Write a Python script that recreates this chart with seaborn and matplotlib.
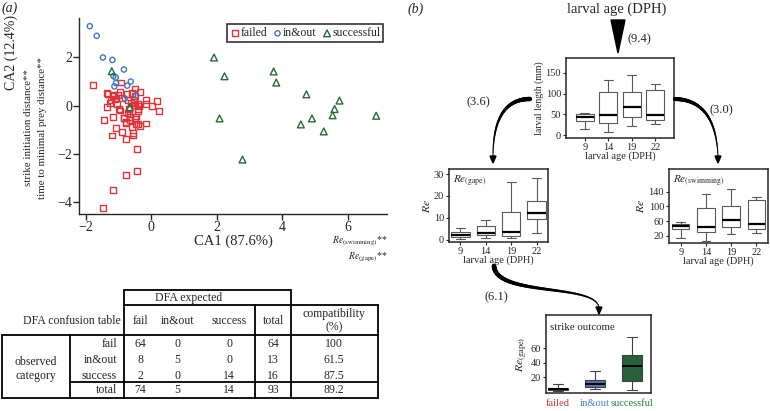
import numpy as np
import pandas as pd
import matplotlib
matplotlib.use("Agg")
import matplotlib.pyplot as plt
from matplotlib.collections import LineCollection
from matplotlib.patches import Polygon
import seaborn as sns

# (a) canonical scores
failed_x = [-1.76, -1.34, -1.33, -1.35, -1.43, -1.22, -1.15, -1.13, -1.10, -1.00,
            -1.15, -1.08, -1.19, -0.89, -0.76, -0.99, -0.96, -0.95, -0.93, -0.84,
            -0.76, -0.74, -0.70, -0.67, -0.65, -0.65, -0.59, -0.54, -0.54, -0.57,
            -0.53, -0.49, -0.48, -0.43, -0.44, -0.76, -1.15, -1.48, -0.50, -0.38,
            -0.40, -0.46, -0.34, -0.41, -0.33, -0.16, -0.16, -0.16, 0.04, 0.19,
            0.25, -1.26, -0.83, -0.66, -0.49, -0.39, -0.53, -0.41, -0.77, -0.88,
            -0.62, -0.45, -1.05, -0.72]
failed_y = [0.85, 0.53, 0.50, -0.07, -0.61, 0.23, 0.39, 0.45, 0.26, 0.43,
            -0.47, -0.93, -1.24, -1.10, -1.40, -0.13, -0.20, 0.57, 0.96, -0.50,
            -0.71, 0.50, 0.25, -0.15, -0.47, -0.60, -0.89, -1.13, -1.24, 0.54,
            0.22, 0.39, 0.71, -1.79, -2.70, -2.88, -3.49, -4.24, 0.04, 0.00,
            -0.14, -0.75, -0.85, -0.77, 0.58, 0.23, 0.07, -0.74, 0.00, 0.19,
            -0.21, 0.12, -0.51, -0.33, -0.57, 0.05, 0.15, -0.24, -0.68, 0.30,
            0.10, -0.45, 0.05, -0.30]
inout_x = [-1.87, -1.66, -1.47, -1.18, -0.83, -0.62, -0.73, -1.15, -1.08, -1.07,
           -1.12, -0.80, -0.46]
inout_y = [3.30, 2.90, 2.00, 1.90, 1.50, 1.00, 0.83, 1.23, 1.17, 0.94,
           0.80, 0.29, 0.43]
success_x = [-1.20, -0.65, 1.92, 2.24, 2.09, 2.79, 3.74, 3.82, 4.74, 4.57,
             4.91, 5.27, 5.54, 5.60, 5.75, 6.87]
success_y = [1.43, -0.07, 2.00, 1.22, -0.53, -2.24, 1.42, 0.96, 0.47, -0.78,
             -0.53, -1.07, -0.40, -0.14, 0.21, -0.42]

# DFA confusion table
pred_cols = ["fail", "in&out", "success"]
obs_rows = ["fail", "in&out", "success"]
confusion = [[64, 0, 0], [8, 5, 0], [2, 0, 14]]
row_totals = [64, 13, 16]
col_totals = [74, 5, 14]
grand_total = 93
compat = ["100", "61.5", "87.5"]
compat_total = "89.2"

# (b) box summaries: min, q1, median, q3, max
ages = ["9", "14", "19", "22"]
length_stats = [[14, 35, 44, 51, 54], [6.5, 30, 48.5, 103, 133],
                [22.5, 43, 67, 104, 146], [26, 36, 49, 109, 124]]
gape_stats = [[0.3, 1.2, 2.3, 3.5, 5.5], [0.9, 2.1, 3.0, 6.1, 8.9],
              [0.7, 1.8, 3.5, 12.7, 26.4], [3.2, 9.5, 12.1, 17.8, 28]]
swim_stats = [[13.8, 37, 46, 52, 56], [5.4, 29.8, 45, 95, 133],
              [24.6, 42.5, 62.5, 99.7, 147], [26.3, 37, 51.7, 117, 124]]
outcomes = ["failed", "in&out", "successful"]
outcome_stats = [[0.5, 1.5, 3, 5.5, 10.5], [4, 6.5, 11, 16.4, 28],
                 [2.5, 14.9, 34.7, 50.5, 75]]
outcome_box = ["#7a1e22", "#3d76bd", "#1d6a36"]
outcome_txt = ["#d3343a", "#4a80c4", "#2c7a40"]

sns.set_style("ticks")
plt.rcParams["font.family"] = ["Liberation Serif", "DejaVu Serif"]
plt.rcParams["mathtext.fontset"] = "stix"
plt.rcParams["axes.linewidth"] = 1.0

W, H = 770, 411
fig = plt.figure(figsize=(7.7, 4.11), dpi=100)


def rect(l, r, t, b):
    return [l / W, 1 - b / H, (r - l) / W, (b - t) / H]


def long_df(labels, stats, name):
    rows = []
    for lab, s in zip(labels, stats):
        for v in s:
            rows.append({name: lab, "val": v})
    return pd.DataFrame(rows)


# ---- scatter ----
ax = fig.add_axes(rect(79, 387, 18, 214))
groups = [("failed", failed_x, failed_y, "s", "#e0333a", 18),
          ("in&out", inout_x, inout_y, "o", "#3f78c2", 14),
          ("successful", success_x, success_y, "^", "#256b38", 24)]
for name, gx, gy, mk, col, sz in groups:
    sns.scatterplot(x=gx, y=gy, marker=mk, s=sz, color=col, facecolor="none",
                    edgecolor=col, linewidth=1.0, label=name, ax=ax, legend=False)
ax.set_xlim(-2.2, 7.2)
ax.set_ylim(-4.5, 3.64)
ax.set_xticks([-2, 0, 2, 4, 6])
ax.set_yticks([-4, -2, 0, 2])
ax.set_xticklabels(["\u22122", "0", "2", "4", "6"])
ax.set_yticklabels(["\u22124", "\u22122", "0", "2"])
ax.tick_params(labelsize=10, length=4, width=1, pad=1)
sns.despine(ax=ax)
leg = ax.legend(loc="upper right", ncol=3, fontsize=8.5, frameon=True, fancybox=False,
                handletextpad=0.05, columnspacing=0.5, borderpad=0.25,
                handlelength=0.8, borderaxespad=0.3, bbox_to_anchor=(1.0, 0.985))
leg.get_frame().set_edgecolor("black")
leg.get_frame().set_linewidth(1.2)


# ---- box panels ----
def box_panel(r, labels, stats, xlim, ylim, yticks, width, ylabel, ylsize=7):
    a = fig.add_axes(r)
    d = long_df(labels, stats, "grp")
    sns.boxplot(data=d, x="grp", y="val", whis=(0, 100), width=width, color="white",
                linecolor="0.35", linewidth=0.8,
                medianprops=dict(color="black", linewidth=1.6), ax=a)
    a.set_xlim(*xlim)
    a.set_ylim(*ylim)
    a.set_yticks(yticks)
    a.tick_params(labelsize=7.5, length=2.5, width=0.8, pad=1)
    a.set_xlabel("larval age (DPH)", fontsize=7.5, labelpad=0)
    a.set_ylabel(ylabel, fontsize=ylsize, labelpad=1)
    for sp in a.spines.values():
        sp.set_linewidth(1.1)
    return a


box_panel(rect(566, 674, 58, 138), ages, length_stats, (-0.8, 3.8), (-7, 186),
          [0, 50, 100, 150], 0.78, "larval length (mm)")
ag = box_panel(rect(449, 548, 169, 242), ages, gape_stats, (-0.45, 3.45), (-1.1, 32.3),
               [0, 10, 20, 30], 0.72, r"$\mathit{Re}$", 8.5)
ag.text(0.04, 0.93, r"$\mathit{Re}_{\mathrm{(gape)}}$", transform=ag.transAxes,
        fontsize=8, va="top")
asw = box_panel(rect(669, 768, 169, 243), ages, swim_stats, (-0.47, 3.47), (0.2, 201.5),
                [20, 60, 100, 140], 0.69, r"$\mathit{Re}$", 8.5)
asw.text(0.04, 0.93, r"$\mathit{Re}_{\mathrm{(swimming)}}$", transform=asw.transAxes,
         fontsize=8, va="top")

# strike outcome
ao = fig.add_axes(rect(546, 651, 315, 393))
d = long_df(outcomes, outcome_stats, "outcome")
sns.boxplot(data=d, x="outcome", y="val", hue="outcome", palette=outcome_box,
            whis=(0, 100), width=0.55, linecolor="0.25", linewidth=0.8,
            medianprops=dict(color="black", linewidth=1.4), legend=False, ax=ao)
ao.set_xlim(-0.32, 2.52)
ao.set_ylim(-2, 106)
ao.set_yticks([20, 40, 60])
ao.tick_params(axis="y", labelsize=7.5, length=2.5, width=0.8, pad=1)
ao.tick_params(axis="x", labelsize=7.6, length=0, pad=4)
for lab, c in zip(ao.get_xticklabels(), outcome_txt):
    lab.set_color(c)
ao.set_xlabel("")
ao.set_ylabel(r"$\mathit{Re}_{\mathrm{(gape)}}$", fontsize=8.5, labelpad=1)
ao.text(0.04, 0.9, "strike outcome", transform=ao.transAxes, fontsize=7.8, va="top")
for sp in ao.spines.values():
    sp.set_linewidth(1.1)

# ---- overlay in pixel coordinates ----
ov = fig.add_axes([0, 0, 1, 1])
ov.set_xlim(0, W)
ov.set_ylim(H, 0)
ov.axis("off")

ov.text(2, 8, "(a)", fontsize=10, style="italic", va="center")
ov.text(408, 9, "(b)", fontsize=10, style="italic", va="center")
ov.text(11.7, 52, "CA2 (12.4%)", fontsize=10, rotation=90, ha="center", va="center")
ov.text(29, 127, "strike initiation distance**", fontsize=7.8, rotation=90,
        ha="center", va="center")
ov.text(43, 128, "time to minimal prey distance**", fontsize=7.8, rotation=90,
        ha="center", va="center")
ov.text(233, 241, "CA1 (87.6%)", fontsize=10.5, ha="center", va="center")
ov.text(388, 241, r"$\mathit{Re}_{\mathrm{(swimming)}}$**", fontsize=7,
        ha="right", va="center")
ov.text(388, 257, r"$\mathit{Re}_{\mathrm{(gape)}}$**", fontsize=7,
        ha="right", va="center")

# table grid
lw = 1.3
t_top, t_mid, t_head, t_tot, t_bot = 290, 305, 335, 382, 398
ov.plot([124, 291], [t_top, t_top], color="k", lw=lw)
ov.plot([124, 378], [t_mid, t_mid], color="k", lw=lw)
ov.plot([2, 378], [t_head, t_head], color="k", lw=lw)
ov.plot([70, 378], [t_tot, t_tot], color="k", lw=lw)
ov.plot([2, 378], [t_bot, t_bot], color="k", lw=lw)
ov.plot([2, 2], [t_head, t_bot], color="k", lw=lw)
ov.plot([70, 70], [t_head, t_bot], color="k", lw=lw)
ov.plot([124, 124], [t_top, t_bot], color="k", lw=lw)
ov.plot([255, 255], [t_mid, t_bot], color="k", lw=lw)
ov.plot([291, 291], [t_top, t_bot], color="k", lw=lw)
ov.plot([378, 378], [t_mid, t_bot], color="k", lw=lw)

fs = 8.5
col_x = [140, 177.7, 229.3]
row_y = [343.5, 360, 376]
ov.text(189, 297.5, "DFA expected", fontsize=fs, ha="center", va="center")
ov.text(121, 321, "DFA confusion table", fontsize=fs, ha="right", va="center")
for cx, lab in zip(col_x, pred_cols):
    ov.text(cx, 321, lab, fontsize=fs, ha="center", va="center")
ov.text(273, 321, "total", fontsize=fs, ha="center", va="center")
ov.text(334, 320.5, "compatibility\n(%)", fontsize=fs, ha="center", va="center",
        linespacing=1.1)
ov.text(36, 369, "observed\ncategory", fontsize=fs, ha="center", va="center",
        linespacing=1.2)
for i, (ry, rl) in enumerate(zip(row_y, obs_rows)):
    ov.text(117, ry, rl, fontsize=fs, ha="right", va="center")
    for cx, v in zip(col_x, confusion[i]):
        ov.text(cx, ry, str(v), fontsize=fs, ha="center", va="center")
    ov.text(273, ry, str(row_totals[i]), fontsize=fs, ha="center", va="center")
    ov.text(334, ry, compat[i], fontsize=fs, ha="center", va="center")
ov.text(117, 390, "total", fontsize=fs, ha="right", va="center")
for cx, v in zip(col_x, col_totals):
    ov.text(cx, 390, str(v), fontsize=fs, ha="center", va="center")
ov.text(273, 390, str(grand_total), fontsize=fs, ha="center", va="center")
ov.text(334, 390, compat_total, fontsize=fs, ha="center", va="center")

# (b) flow
ov.text(617, 9, "larval age (DPH)", fontsize=10.5, ha="center", va="center")
ov.add_patch(Polygon([(611, 20), (625, 20), (618, 53)], closed=True, color="k"))
ov.text(639, 39, "(9.4)", fontsize=9, ha="center", va="center")


def bezier(pts, n=80):
    pts = np.asarray(pts, float)
    t = np.linspace(0, 1, n)[:, None]
    while len(pts) > 1:
        pts = np.array([(1 - t) * pts[i] + t * pts[i + 1] for i in range(len(pts) - 1)])
    return pts[0]


def tapered(pts, w0, w1):
    c = bezier(pts)
    segs = np.stack([c[:-1], c[1:]], axis=1)
    ov.add_collection(LineCollection(segs, linewidths=np.linspace(w0, w1, len(segs)),
                                     color="k", capstyle="round"))
    tip = c[-1]
    ov.add_patch(Polygon([(tip[0] - 3, tip[1] - 1), (tip[0] + 3, tip[1] - 1),
                          (tip[0], tip[1] + 6)], closed=True, color="k"))


tapered([(530, 99), (493, 99), (493, 157)], 3.2, 0.6)
tapered([(675, 99), (716, 100), (718, 157)], 3.0, 0.6)
tapered([(494, 266), (496, 297), (597, 283), (599, 308)], 3.4, 0.6)
ov.text(478, 102, "(3.6)", fontsize=9, ha="center", va="center")
ov.text(721, 110, "(3.0)", fontsize=9, ha="center", va="center")
ov.text(496, 297, "(6.1)", fontsize=9, ha="center", va="center")

fig.savefig("out.png", dpi=100)
